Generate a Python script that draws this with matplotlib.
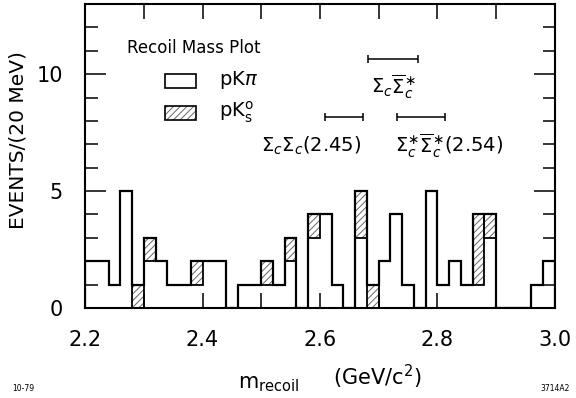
import numpy as np
import matplotlib
matplotlib.use("Agg")
import matplotlib.pyplot as plt
from matplotlib.patches import Rectangle

# Histogram: 20 MeV bins from 2.20 to 3.00 GeV/c^2
edges = np.round(np.arange(2.20, 3.0001, 0.02), 3)

# pK pi (open) counts per bin
open_counts = [2, 2, 1, 5, 0, 2, 2, 1, 1, 1,
               2, 2, 0, 1, 1, 1, 1, 2, 0, 3,
               4, 1, 0, 3, 0, 2, 4, 1, 0, 5,
               1, 2, 1, 1, 3, 0, 0, 0, 1, 2]

# pKs (hatched) counts per bin, stacked on top
hatched_counts = [0, 0, 0, 0, 1, 1, 0, 0, 0, 1,
                  0, 0, 0, 0, 0, 1, 0, 1, 0, 1,
                  0, 0, 0, 2, 1, 0, 0, 0, 0, 0,
                  0, 0, 0, 3, 1, 0, 0, 0, 0, 0]

# threshold intervals (GeV/c^2) and their labels
intervals = [(2.682, 2.766, 10.64), (2.609, 2.674, 8.16), (2.731, 2.813, 8.16)]
interval_labels = [r"$\Sigma_c\overline{\Sigma}{}_c^{\ast}$",
                   r"$\Sigma_c\Sigma_c$(2.45)",
                   r"$\Sigma_c^{\ast}\overline{\Sigma}{}_c^{\ast}$(2.54)"]

open_counts = np.array(open_counts)
hatched_counts = np.array(hatched_counts)
total = open_counts + hatched_counts

plt.rcParams["hatch.linewidth"] = 0.7

fig = plt.figure(figsize=(5.76, 3.98), dpi=100)
ax = fig.add_axes([0.1476, 0.226, 0.8159, 0.764])

# hatched parts
mask = hatched_counts > 0
ax.bar(edges[:-1][mask], hatched_counts[mask], width=0.02, bottom=open_counts[mask],
       align="edge", fill=False, hatch="/////", edgecolor="#666666", linewidth=0)
ax.bar(edges[:-1][mask], hatched_counts[mask], width=0.02, bottom=open_counts[mask],
       align="edge", fill=False, edgecolor="black", linewidth=1.3)

# outline of the total
ax.stairs(total, edges, baseline=0, color="black", linewidth=1.6)

ax.set_xlim(2.2, 3.0)
ax.set_ylim(0, 13)

ax.set_xticks([2.2, 2.4, 2.6, 2.8, 3.0])
ax.set_xticks(np.arange(2.2, 3.0, 0.1), minor=True)
ax.set_yticks([0, 5, 10])
ax.set_yticklabels(["0", "5", "10"])
ax.set_yticks(range(0, 14), minor=True)
ax.tick_params(which="both", direction="in", top=True, right=True, width=1.1,
               labelsize=15)
ax.tick_params(axis="x", which="both", length=11, pad=16)
ax.tick_params(axis="y", which="major", length=15, pad=16)
ax.tick_params(axis="y", which="minor", length=9)
for s in ax.spines.values():
    s.set_linewidth(1.5)

ax.set_ylabel("EVENTS/(20 MeV)", fontsize=14.5)
ax.yaxis.set_label_coords(-0.123, 0.553)

# legend drawn by hand
ax.text(0.0894, 0.855, "Recoil Mass Plot", transform=ax.transAxes,
        fontsize=12, va="center", ha="left")
ax.add_patch(Rectangle((0.17, 0.724), 0.066, 0.047, transform=ax.transAxes,
                       fill=False, edgecolor="black", linewidth=1.2))
ax.add_patch(Rectangle((0.17, 0.618), 0.066, 0.047, transform=ax.transAxes,
                       fill=False, hatch="/////", edgecolor="#666666", linewidth=0))
ax.add_patch(Rectangle((0.17, 0.618), 0.066, 0.047, transform=ax.transAxes,
                       fill=False, edgecolor="black", linewidth=1.2))
ax.text(0.285, 0.75, r"pK$\pi$", transform=ax.transAxes, fontsize=14, va="center")
ax.text(0.285, 0.645, r"pK$_{\rm s}^{\rm o}$", transform=ax.transAxes, fontsize=14,
        va="center")

# threshold intervals
for x0, x1, y in intervals:
    ax.errorbar([(x0 + x1) / 2], [y], xerr=[(x1 - x0) / 2], fmt="none",
                ecolor="black", elinewidth=1.1, capsize=3, capthick=1.1)
ax.text(2.725, 9.45, interval_labels[0], fontsize=14, ha="center", va="center")
ax.text(2.584, 6.95, interval_labels[1], fontsize=14, ha="center", va="center")
ax.text(2.82, 6.95, interval_labels[2], fontsize=14, ha="center", va="center")

fig.text(0.413, 0.035, r"m$_{\rm recoil}$", fontsize=15, ha="left", va="center")
fig.text(0.578, 0.053, r"(GeV/c$^2$)", fontsize=15, ha="left", va="center")
fig.text(0.021, 0.025, "10-79", fontsize=5.5, ha="left", va="center")
fig.text(0.99, 0.025, "3714A2", fontsize=5.5, ha="right", va="center")

fig.savefig("out.png", dpi=100)
